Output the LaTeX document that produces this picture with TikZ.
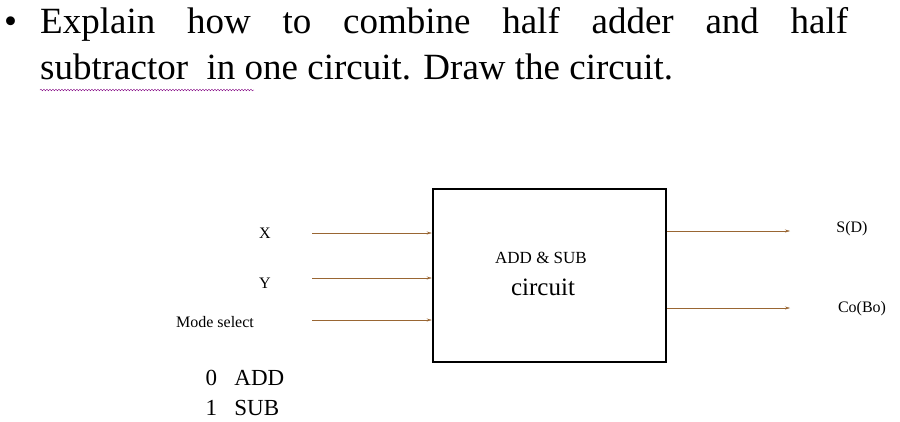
\documentclass[tikz,border=0pt]{standalone}
\usepackage{fontspec}
\setmainfont{Liberation Serif}
\usetikzlibrary{arrows.meta}
\usetikzlibrary{decorations.pathmorphing}

\begin{document}
\begin{tikzpicture}[x=1pt, y=-1pt,
        sig_style/.style={draw=brown!80!black, thin, -{Stealth[length=5pt,width=3pt]}},
        lbl_style/.style={font=\fontsize{16}{18}\selectfont},
        box_style/.style={draw=black, line width=2.5pt, minimum width=233pt, minimum height=173pt, inner sep=0pt}]
        \useasboundingbox (0,0) rectangle (900,421);

        % question text
        \node [anchor=base west, font=\fontsize{37}{40}\selectfont, inner sep=0pt](b) at (4,33) {\textbullet};
        \node [anchor=base west, font=\fontsize{37}{40}\selectfont, inner sep=0pt](q1) at (40,33)
            {\makebox[808pt][s]{Explain how to combine half adder and half}};
        \node [anchor=base west, font=\fontsize{37}{40}\selectfont, inner sep=0pt](q2) at (40,79)
            {subtractor\ \ in one circuit. Draw the circuit.};
        \coordinate (w1) at (40,90);
        \coordinate (w2) at (254,90);
        \draw [violet, decorate, decoration={snake, amplitude=0.8pt, segment length=3pt}] (w1) -- (w2);

        % block
        \node [box_style](blk) at (549.5,275.5) {};
        \node [font=\fontsize{17}{19}\selectfont](t1) at (541,258) {ADD \& SUB};
        \node [font=\fontsize{25}{27}\selectfont](t2) at (543,287) {circuit};

        % inputs
        \node [lbl_style](x) at (265,233) {X};
        \node [lbl_style](y) at (265,283) {Y};
        \node [lbl_style](m) at (215,322) {Mode select};
        \coordinate (xs) at (312,233);
        \coordinate (ys) at (312,278);
        \coordinate (ms) at (312,320);
        \draw [sig_style] (xs) -- (xs -| blk.west);
        \draw [sig_style] (ys) -- (ys -| blk.west);
        \draw [sig_style] (ms) -- (ms -| blk.west);

        % outputs
        \node [lbl_style](s) at (852,229) {S(D)};
        \node [lbl_style](c) at (862,309) {Co(Bo)};
        \coordinate (se) at (790,231);
        \coordinate (ce) at (790,308);
        \draw [sig_style] (se -| blk.east) -- (se);
        \draw [sig_style] (ce -| blk.east) -- (ce);

        % mode table
        \node [font=\fontsize{23}{30}\selectfont, align=left](tab) at (245,393) {0\ \ \ ADD\\1\ \ \ SUB};
        \end{tikzpicture}
\end{document}
